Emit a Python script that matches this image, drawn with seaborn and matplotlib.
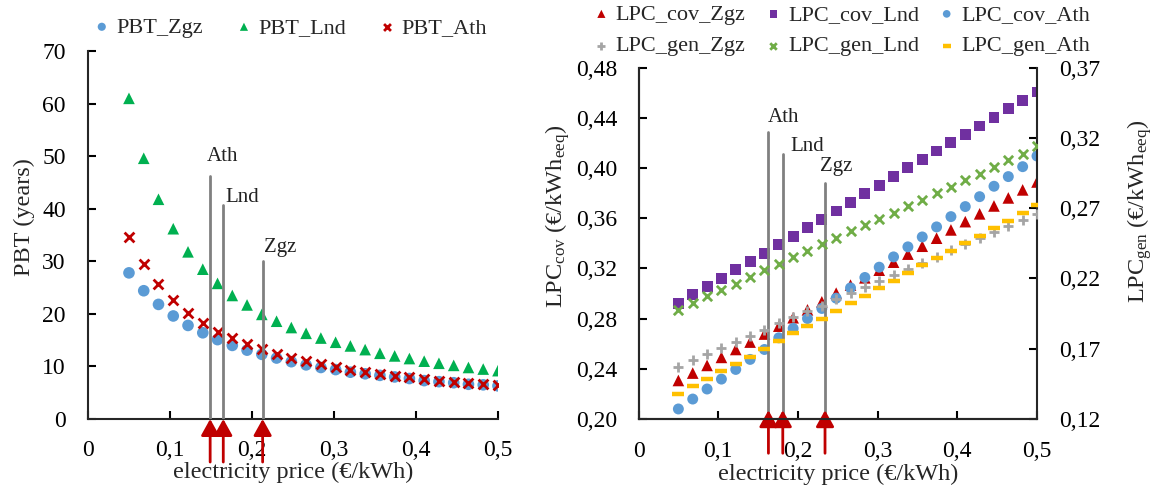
import numpy as np
import matplotlib
matplotlib.use("Agg")
import matplotlib.pyplot as plt
from matplotlib.ticker import FuncFormatter
import seaborn as sns

# ---------------------------------------------------------------- data
price = [0.050, 0.068, 0.086, 0.104, 0.122, 0.140, 0.158, 0.176, 0.194, 0.212,
         0.230, 0.248, 0.266, 0.284, 0.302, 0.320, 0.338, 0.356, 0.374, 0.392,
         0.410, 0.428, 0.446, 0.464, 0.482, 0.500]

pbt_zgz = [27.8, 24.4, 21.8, 19.6, 17.8, 16.4, 15.1, 14.0, 13.1, 12.3, 11.6, 10.9, 10.3,
           9.8, 9.4, 8.9, 8.6, 8.3, 8.0, 7.7, 7.3, 7.1, 6.9, 6.6, 6.5, 6.3]
pbt_lnd = [61.0, 49.6, 41.8, 36.2, 31.8, 28.5, 25.8, 23.5, 21.7, 19.9, 18.6, 17.4, 16.3,
           15.4, 14.6, 13.9, 13.2, 12.5, 12.0, 11.5, 11.0, 10.6, 10.2, 9.8, 9.5, 9.2]
pbt_ath = [34.7, 29.4, 25.6, 22.6, 20.2, 18.2, 16.6, 15.4, 14.3, 13.3, 12.4, 11.6, 11.0,
           10.4, 9.9, 9.4, 9.0, 8.6, 8.2, 7.9, 7.6, 7.3, 7.1, 6.8, 6.6, 6.4]

lpc_cov_zgz = [0.2307, 0.2366, 0.2427, 0.2491, 0.2554, 0.2613, 0.2677, 0.2740, 0.2807,
               0.2870, 0.2934, 0.3003, 0.3067, 0.3125, 0.3186, 0.3250, 0.3314, 0.3377,
               0.3441, 0.3507, 0.3573, 0.3635, 0.3698, 0.3762, 0.3826, 0.3889]
lpc_cov_lnd = [0.2924, 0.2990, 0.3056, 0.3120, 0.3189, 0.3252, 0.3319, 0.3388, 0.3454,
               0.3523, 0.3592, 0.3658, 0.3725, 0.3796, 0.3863, 0.3932, 0.4003, 0.4070,
               0.4136, 0.4202, 0.4269, 0.4335, 0.4401, 0.4471, 0.4537, 0.4606]
lpc_cov_ath = [0.2080, 0.2159, 0.2239, 0.2318, 0.2395, 0.2475, 0.2554, 0.2647, 0.2722,
               0.2801, 0.2881, 0.2963, 0.3045, 0.3128, 0.3210, 0.3292, 0.3372, 0.3451,
               0.3531, 0.3613, 0.3693, 0.3772, 0.3855, 0.3932, 0.4011, 0.4096]

lpc_gen_zgz = [0.1572, 0.1617, 0.1660, 0.1702, 0.1745, 0.1791, 0.1833, 0.1880, 0.1923,
               0.1966, 0.2006, 0.2051, 0.2094, 0.2140, 0.2179, 0.2225, 0.2270, 0.2312,
               0.2355, 0.2400, 0.2443, 0.2485, 0.2528, 0.2571, 0.2614, 0.2661]
lpc_gen_lnd = [0.1978, 0.2026, 0.2078, 0.2118, 0.2163, 0.2213, 0.2258, 0.2305, 0.2350,
               0.2398, 0.2443, 0.2490, 0.2535, 0.2578, 0.2623, 0.2668, 0.2716, 0.2761,
               0.2809, 0.2853, 0.2898, 0.2946, 0.2994, 0.3046, 0.3088, 0.3140]
lpc_gen_ath = [0.1378, 0.1432, 0.1487, 0.1539, 0.1594, 0.1643, 0.1700, 0.1755, 0.1809,
               0.1859, 0.1914, 0.1969, 0.2023, 0.2078, 0.2130, 0.2182, 0.2236, 0.2293,
               0.2346, 0.2398, 0.2450, 0.2505, 0.2557, 0.2611, 0.2666, 0.2720]

sites = ["Ath", "Lnd", "Zgz"]
# break-even electricity prices marked on each panel
pbt_marks = [0.149, 0.165, 0.213]
pbt_mark_tops = [46.3, 40.8, 30.1]
lpc_marks = [0.163, 0.181, 0.234]
lpc_mark_tops = [0.4287, 0.4110, 0.3884]

pbt_ticks = [0, 10, 20, 30, 40, 50, 60, 70]
cov_ticks = [0.20, 0.24, 0.28, 0.32, 0.36, 0.40, 0.44, 0.48]
gen_ticks = [0.12, 0.17, 0.22, 0.27, 0.32, 0.37]
price_ticks = [0, 0.1, 0.2, 0.3, 0.4, 0.5]

# ---------------------------------------------------------------- style
sns.set_style("ticks")
plt.rcParams["font.family"] = ["Liberation Serif", "DejaVu Serif"]
plt.rcParams["mathtext.fontset"] = "custom"
plt.rcParams["mathtext.rm"] = "Liberation Serif"
plt.rcParams["mathtext.it"] = "Liberation Serif:italic"
plt.rcParams["axes.linewidth"] = 1.5
TICK_FS = 17
LABEL_FS = 17.5

BLUE, GREEN, RED = "#5B9BD5", "#00B050", "#C00000"
PURPLE, GREY, LGREEN, GOLD = "#7030A0", "#A5A5A5", "#70AD47", "#FFC000"
LINE = "#808080"

comma = lambda d: FuncFormatter(lambda v, _: ("0" if abs(v) < 1e-9 else f"{v:.{d}f}").replace(".", ","))

fig = plt.figure(figsize=(11.53, 4.88), dpi=100)
ax1 = fig.add_axes([0.0763, 0.1414, 0.3556, 0.754])
ax2 = fig.add_axes([0.5538, 0.1414, 0.3456, 0.7199])
ax3 = ax2.twinx()

# ---------------------------------------------------------------- PBT panel
sns.scatterplot(x=price, y=pbt_zgz, ax=ax1, marker="o", s=70, color=BLUE,
                edgecolor="none", label="PBT_Zgz", zorder=3)
sns.scatterplot(x=price, y=pbt_lnd, ax=ax1, marker="^", s=70, color=GREEN,
                edgecolor="none", label="PBT_Lnd", zorder=3)
sns.scatterplot(x=price, y=pbt_ath, ax=ax1, marker="x", s=50, color=RED,
                linewidth=2, label="PBT_Ath", zorder=4)

ax1.set_xlim(0, 0.5)
ax1.set_ylim(0, 70)
ax1.set_xticks(price_ticks)
ax1.set_yticks(pbt_ticks)
ax1.xaxis.set_major_formatter(comma(1))
ax1.set_ylabel("PBT (years)", fontsize=LABEL_FS)
ax1.yaxis.set_label_coords(-0.13, 0.55)
ax1.set_xlabel("electricity price (€/kWh)", fontsize=LABEL_FS, labelpad=1)
sns.despine(ax=ax1)

for x, top, name, dx, dy in zip(pbt_marks, pbt_mark_tops, sites,
                                [-0.004, 0.002, 0.002], [1.9, -0.4, 0.8]):
    ax1.plot([x, x], [0, top], color=LINE, lw=2, zorder=5)
    ax1.text(x + dx, top + dy, name, fontsize=15, ha="left", va="bottom", color="#222222")

# ---------------------------------------------------------------- LPC panel
sns.scatterplot(x=price, y=lpc_cov_zgz, ax=ax2, marker="^", s=70, color=RED,
                edgecolor="none", label="LPC_cov_Zgz", zorder=4, legend=False)
sns.scatterplot(x=price, y=lpc_cov_lnd, ax=ax2, marker="s", s=62, color=PURPLE,
                edgecolor="none", label="LPC_cov_Lnd", zorder=3, legend=False)
sns.scatterplot(x=price, y=lpc_cov_ath, ax=ax2, marker="o", s=62, color=BLUE,
                edgecolor="none", label="LPC_cov_Ath", zorder=5, legend=False)

sns.scatterplot(x=price, y=lpc_gen_zgz, ax=ax3, marker="+", s=55, color=GREY,
                linewidth=2, label="LPC_gen_Zgz", zorder=3, legend=False)
sns.scatterplot(x=price, y=lpc_gen_lnd, ax=ax3, marker="x", s=45, color=LGREEN,
                linewidth=2, label="LPC_gen_Lnd", zorder=3, legend=False)
sns.scatterplot(x=price, y=lpc_gen_ath, ax=ax3, marker="_", s=70, color=GOLD,
                linewidth=3.2, label="LPC_gen_Ath", zorder=3, legend=False)

ax2.set_xlim(0, 0.5)
ax2.set_ylim(0.20, 0.48)
ax3.set_ylim(0.12, 0.37)
ax2.set_xticks(price_ticks)
ax2.set_yticks(cov_ticks)
ax3.set_yticks(gen_ticks)
ax2.xaxis.set_major_formatter(comma(1))
ax2.yaxis.set_major_formatter(comma(2))
ax3.yaxis.set_major_formatter(comma(2))
ax2.set_xlabel("electricity price (€/kWh)", fontsize=LABEL_FS, labelpad=1)
ax2.set_ylabel(r"LPC$_{\mathrm{cov}}$ (€/kWh$_{\mathrm{eeq}}$)", fontsize=LABEL_FS)
ax2.yaxis.set_label_coords(-0.168, 0.577)
ax3.set_ylabel(r"LPC$_{\mathrm{gen}}$ (€/kWh$_{\mathrm{eeq}}$)", fontsize=LABEL_FS)
ax3.yaxis.set_label_coords(1.222, 0.59)
for a in (ax2, ax3):
    a.spines["top"].set_visible(False)
ax2.spines["right"].set_visible(False)
ax3.spines["right"].set_visible(True)
ax3.spines["right"].set_linewidth(1.5)

for x, top, name, dx, dy in zip(lpc_marks, lpc_mark_tops, sites,
                                [-0.001, 0.010, -0.006], [0.004, -0.001, 0.005]):
    ax2.plot([x, x], [0.20, top], color=LINE, lw=2, zorder=6)
    ax2.text(x + dx, top + dy, name, fontsize=15, ha="left", va="bottom", color="#222222")

# ---------------------------------------------------------------- arrows under the price axis
for ax, marks, tip in ((ax1, pbt_marks, 0.0), (ax2, lpc_marks, 0.025)):
    for x in marks:
        ax.annotate("", xy=(x, tip), xycoords=("data", "axes fraction"),
                    xytext=(0, -31), textcoords="offset points",
                    arrowprops=dict(arrowstyle="-|>,head_length=0.45,head_width=0.25",
                                    color=RED, lw=2, shrinkA=0, shrinkB=0,
                                    mutation_scale=22),
                    annotation_clip=False, zorder=10)

# ---------------------------------------------------------------- ticks
for ax in (ax1, ax2, ax3):
    ax.tick_params(direction="in", length=6, width=1.5, labelsize=TICK_FS, colors="black")
ax1.tick_params(axis="y", pad=16)
ax1.tick_params(axis="x", pad=15)
ax2.tick_params(axis="y", pad=15)
ax2.tick_params(axis="x", pad=16)
ax3.tick_params(axis="y", pad=16)

# ---------------------------------------------------------------- legends
ax1.legend(loc="center", bbox_to_anchor=(0.253, 0.944), bbox_transform=fig.transFigure,
           ncol=3, frameon=False, fontsize=16, handlelength=0.5, handletextpad=0.4,
           columnspacing=1.6, markerscale=0.7)

h2, l2 = ax2.get_legend_handles_labels()
h3, l3 = ax3.get_legend_handles_labels()
handles = [h2[0], h3[0], h2[1], h3[1], h2[2], h3[2]]
labels = [l2[0], l3[0], l2[1], l3[1], l2[2], l3[2]]
ax3.legend(handles, labels, loc="center", bbox_to_anchor=(0.731, 0.938),
           bbox_transform=fig.transFigure, ncol=3, frameon=False, fontsize=16,
           handlelength=0.5, handletextpad=0.4, columnspacing=1.0, markerscale=0.7,
           labelspacing=0.5)

fig.savefig("out.png", dpi=100)
